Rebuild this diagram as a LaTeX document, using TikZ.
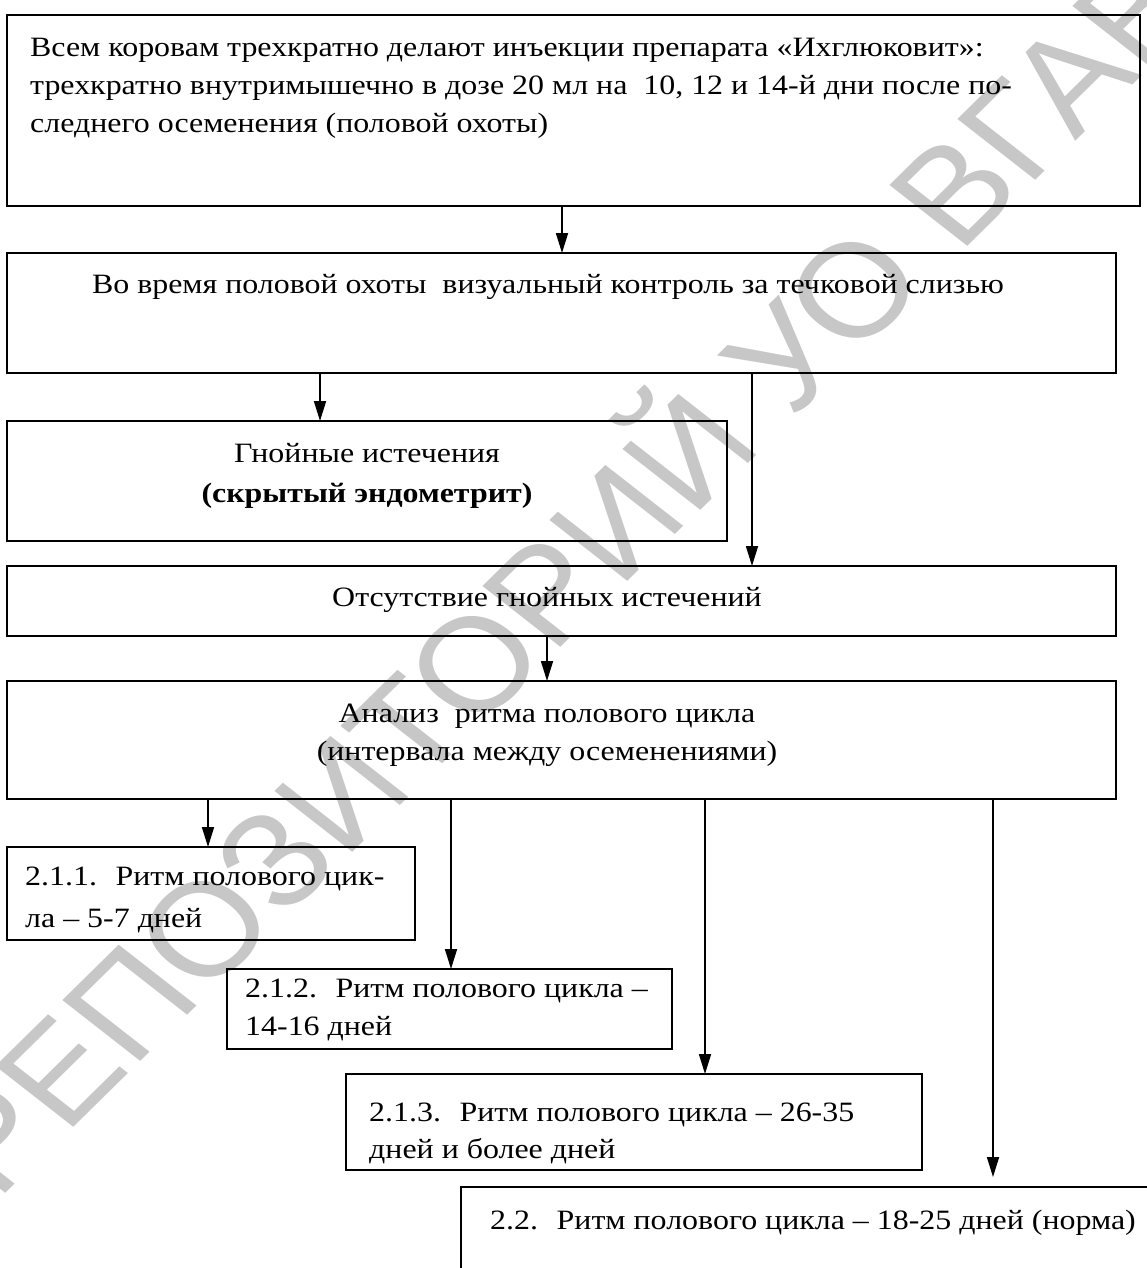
\documentclass[tikz,border=0pt]{standalone}
\usepackage{fontspec}
\setmainfont{Liberation Serif}[FakeStretch=1.14]
\newfontfamily\wmfont{Liberation Sans}
\usetikzlibrary{arrows.meta}
\begin{document}
\begin{tikzpicture}[x=1pt,y=-1pt,
  box/.style={draw, line width=1.7pt, rectangle, inner sep=0pt, outer sep=0pt, anchor=north west},
  txt/.style={anchor=base west, inner sep=0pt, font=\fontsize{28}{38}\selectfont},
  ctxt/.style={anchor=base, inner sep=0pt, font=\fontsize{28}{38}\selectfont},
  arr/.style={line width=1.7pt, -{Triangle[length=20pt,width=12pt]}},
  wm/.style={anchor=base west, inner sep=0pt, text=black!22, font=\wmfont\fontsize{133}{133}\selectfont}
]
\useasboundingbox (0,0) rectangle (1147,1268);
\begin{scope}[xscale=1.14]
\node[wm, rotate=48.3, transform shape] (wmark) at (-2,1202) {РЕПОЗИТОРИЙ УО ВГАВМ};
\end{scope}

\node[box, minimum width=1133pt, minimum height=191pt] (b1) at (7,15) {};
\node[box, minimum width=1109pt, minimum height=120pt] (b2) at (7,253) {};
\node[box, minimum width=720pt, minimum height=120pt] (b3) at (7,421) {};
\node[box, minimum width=1109pt, minimum height=70pt] (b4) at (7,566) {};
\node[box, minimum width=1109pt, minimum height=118pt] (b5) at (7,681) {};
\node[box, minimum width=408pt, minimum height=93pt] (b6) at (7,847) {};
\node[box, minimum width=445pt, minimum height=80pt] (b7) at (227,969) {};
\node[box, minimum width=576pt, minimum height=96pt] (b8) at (346,1074) {};
\node[box, minimum width=720pt, minimum height=120pt] (b9) at (461,1187) {};

\node[txt] (t1a) at (30,57) {Всем коровам трехкратно делают инъекции препарата «Ихглюковит»:};
\node[txt] (t1b) at (30,95) {трехкратно внутримышечно в дозе 20 мл на~ 10, 12 и 14-й дни после по-};
\node[txt] (t1c) at (30,133) {следнего осеменения (половой охоты)};
\node[ctxt] (t2) at (548,293) {Во время половой охоты~ визуальный контроль за течковой слизью};
\node[ctxt] (t3a) at (367,462) {Гнойные истечения};
\node[ctxt, font=\fontsize{28}{38}\selectfont\bfseries] (t3b) at (367,502) {(скрытый эндометрит)};
\node[ctxt] (t4) at (547,606) {Отсутствие гнойных истечений};
\node[ctxt] (t5a) at (547,722) {Анализ~ ритма полового цикла};
\node[ctxt] (t5b) at (547,760) {(интервала между осеменениями)};
\node[txt] (t6a) at (25,885) {2.1.1.~ Ритм полового цик-};
\node[txt] (t6b) at (25,927) {ла – 5-7 дней};
\node[txt] (t7a) at (245,997) {2.1.2.~ Ритм полового цикла –};
\node[txt] (t7b) at (245,1035) {14-16 дней};
\node[txt] (t8a) at (369,1121) {2.1.3.~ Ритм полового цикла – 26-35};
\node[txt] (t8b) at (369,1158) {дней и более дней};
\node[txt] (t9) at (490,1229) {2.2.~ Ритм полового цикла – 18-25 дней (норма)};

\coordinate (x12) at (562,0);
\coordinate (x23) at (320,0);
\coordinate (x24) at (752,0);
\coordinate (x45) at (547,0);
\coordinate (x56) at (208,0);
\coordinate (x57) at (451,0);
\coordinate (x58) at (705,0);
\coordinate (e9) at (993,1177);

\draw[arr] (x12 |- b1.south) -- (x12 |- b2.north);
\draw[arr] (x23 |- b2.south) -- (x23 |- b3.north);
\draw[arr] (x24 |- b2.south) -- (x24 |- b4.north);
\draw[arr] (x45 |- b4.south) -- (x45 |- b5.north);
\draw[arr] (x56 |- b5.south) -- (x56 |- b6.north);
\draw[arr] (x57 |- b5.south) -- (x57 |- b7.north);
\draw[arr] (x58 |- b5.south) -- (x58 |- b8.north);
\draw[arr] (e9 |- b5.south) -- (e9);
\end{tikzpicture}
\end{document}
